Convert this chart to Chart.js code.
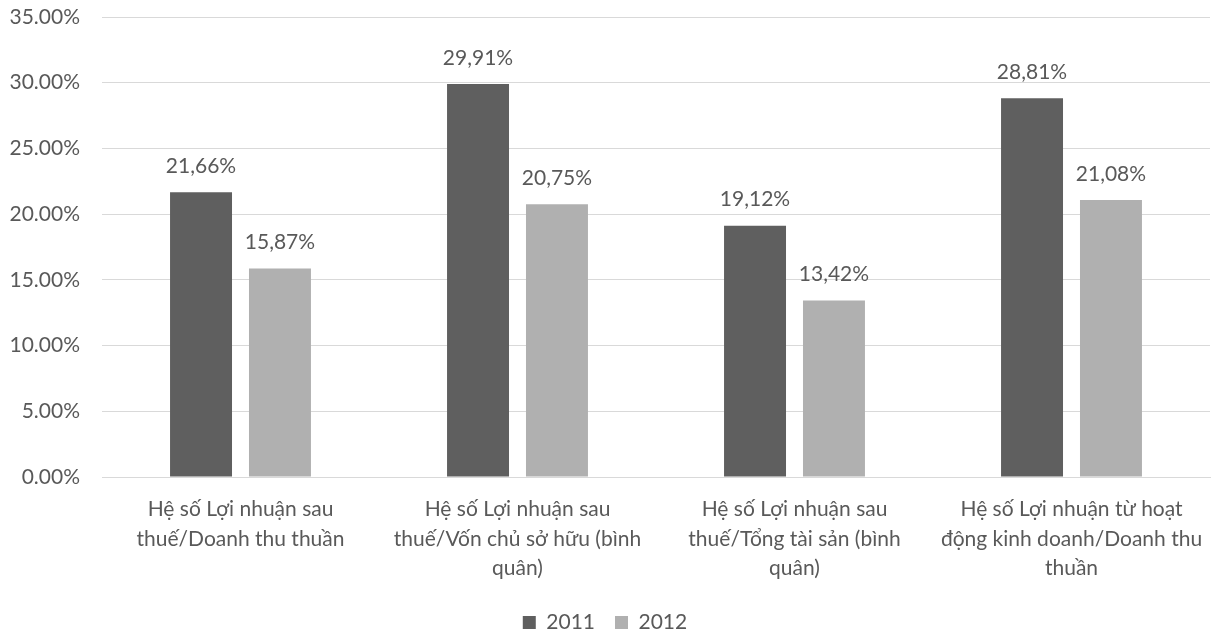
<!DOCTYPE html>
<html>
<head>
<meta charset="utf-8">
<script src="https://cdn.jsdelivr.net/npm/chart.js@4"></script>
<style>
  html, body { margin: 0; padding: 0; background: #fff; }
  #wrap { width: 1215px; height: 630px; }
</style>
</head>
<body>
<div id="wrap"><canvas id="myChart" width="1215" height="630"></canvas></div>
<script>
const categories = [
    ['Hệ số Lợi nhuận sau', 'thuế/Doanh thu thuần'],
    ['Hệ số Lợi nhuận sau', 'thuế/Vốn chủ sở hữu (bình', 'quân)'],
    ['Hệ số Lợi nhuận sau', 'thuế/Tổng tài sản (bình', 'quân)'],
    ['Hệ số Lợi nhuận từ hoạt', 'động kinh doanh/Doanh thu', 'thuần']
];
const series2011 = [21.66, 29.91, 19.12, 28.81];
const series2012 = [15.87, 20.75, 13.42, 21.08];
const seriesNames = ['2011', '2012'];

const textColor = '#595959';
const fontFamily = 'Lato, "Open Sans", sans-serif';
const fontSize = 21;

// value labels above each bar, comma decimals like the original
const barLabels = {
    id: 'barLabels',
    afterDatasetsDraw(chart) {
        const ctx = chart.ctx;
        ctx.save();
        ctx.font = fontSize + 'px ' + fontFamily;
        ctx.fillStyle = textColor;
        ctx.textAlign = 'center';
        ctx.textBaseline = 'middle';
        chart.data.datasets.forEach((ds, i) => {
            chart.getDatasetMeta(i).data.forEach((bar, j) => {
                ctx.fillText(ds.data[j].toFixed(2).replace('.', ',') + '%', bar.x, bar.y - 26);
            });
        });
        ctx.restore();
    }
};

function chart () {
    const ctx = document.getElementById('myChart').getContext('2d');
    new Chart(ctx, {
        type: 'bar',
        data: {
            labels: categories,
            datasets: [{
                label: seriesNames[0],
                data: series2011,
                backgroundColor: '#5f5f5f',
                categoryPercentage: 0.570,
                barPercentage: 0.785
            }, {
                label: seriesNames[1],
                data: series2012,
                backgroundColor: '#b0b0b0',
                categoryPercentage: 0.570,
                barPercentage: 0.785
            }]
        },
        options: {
            responsive: false,
            animation: false,
            layout: { padding: { left: 0, right: 5, top: 17, bottom: -13 } },
            plugins: {
                legend: {
                    position: 'bottom',
                    labels: {
                        color: textColor,
                        font: { size: fontSize, family: fontFamily },
                        boxWidth: 13,
                        boxHeight: 13,
                        padding: 20
                    }
                },
                tooltip: { enabled: false }
            },
            scales: {
                x: {
                    grid: { display: false },
                    border: { color: '#d9d9d9', width: 1 },
                    ticks: {
                        color: textColor,
                        font: { size: fontSize, family: fontFamily, lineHeight: 1.4 },
                        maxRotation: 0,
                        autoSkip: false,
                        padding: 10
                    },
                    afterFit(scale) { scale.height = 115; }
                },
                y: {
                    min: 0,
                    max: 35,
                    border: { display: false },
                    // invisible tick marks give the gap between labels and plot
                    grid: { color: '#d9d9d9', tickLength: 22, tickColor: 'rgba(0,0,0,0)' },
                    ticks: {
                        stepSize: 5,
                        color: textColor,
                        font: { size: fontSize, family: fontFamily },
                        padding: 0,
                        callback: v => v.toFixed(2) + '%'
                    },
                    afterFit(scale) { scale.width = 102; }
                }
            }
        },
        plugins: [barLabels]
    });
}

window.onload = chart;
</script>
</body>
</html>
